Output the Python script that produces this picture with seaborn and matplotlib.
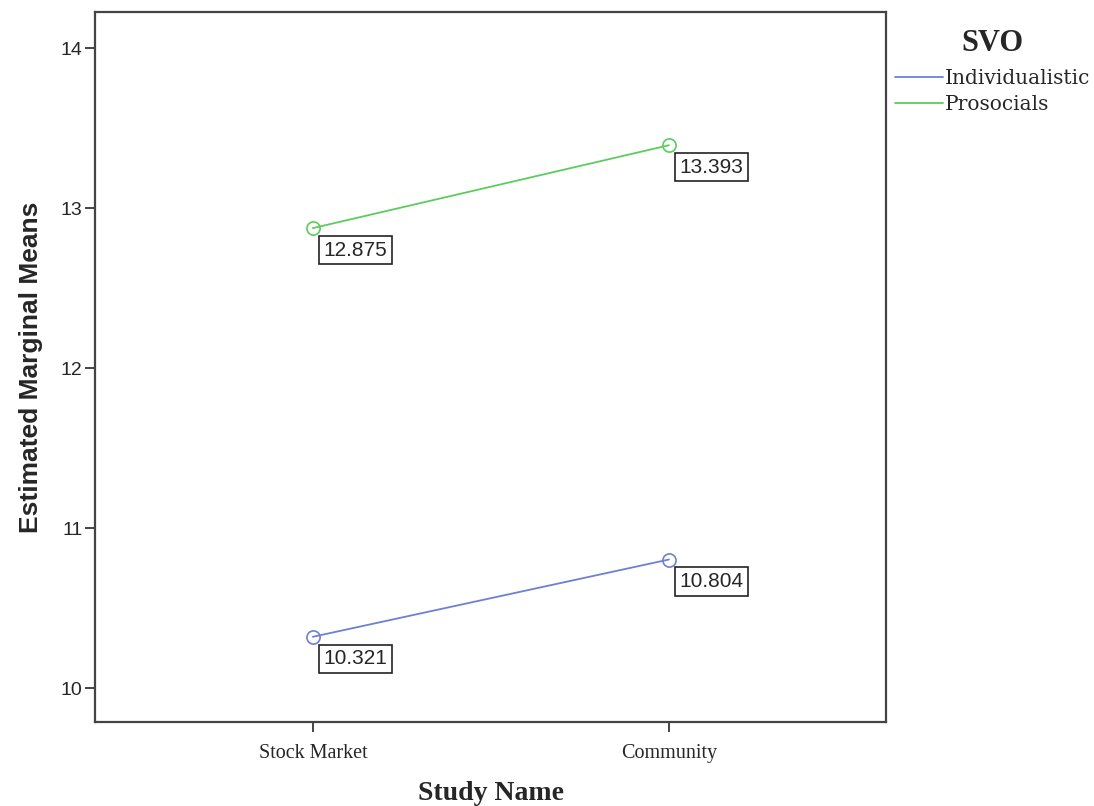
import pandas as pd
import matplotlib
matplotlib.use("Agg")
import matplotlib.pyplot as plt
from matplotlib.lines import Line2D
import seaborn as sns

# data
studies = ['Stock Market', 'Community']
groups = ['Individualistic', 'Prosocials']
individualistic = [10.321, 10.804]
prosocials = [12.875, 13.393]
colors = ['#6f80d2', '#5ccc5c']

df = pd.DataFrame({
    'Study Name': studies * 2,
    'Mean': individualistic + prosocials,
    'SVO': [groups[0]] * 2 + [groups[1]] * 2,
})

sns.set_style("white")
fig = plt.figure(figsize=(10.94, 8.06), dpi=100)
ax = fig.add_axes([0.0868, 0.104, 0.7232, 0.881])

sns.pointplot(data=df, x='Study Name', y='Mean', hue='SVO', order=studies,
              hue_order=groups, palette=colors, errorbar=None, markers='o',
              markersize=9.5, markerfacecolor='none', markeredgewidth=1.2,
              linewidth=1.3, ax=ax)

# value labels in boxes
for x, vals in enumerate(zip(individualistic, prosocials)):
    for v in vals:
        ax.annotate(f'{v:.3f}', xy=(x, v), xytext=(7.5, -9), textcoords='offset points',
                    ha='left', va='top', fontsize=15, family='Liberation Sans',
                    bbox=dict(boxstyle='square,pad=0.22', fc='white', ec='#222222', lw=1.2))

ax.set_xlim(-0.612, 1.61)
ax.set_ylim(9.7875, 14.225)
ax.set_yticks([10, 11, 12, 13, 14])

for s in ax.spines.values():
    s.set_color('#444444')
    s.set_linewidth(1.6)

ax.tick_params(axis='both', direction='out', length=7, width=1.4, color='#444444',
               left=True, bottom=True)
ax.tick_params(axis='x', pad=9)
ax.tick_params(axis='y', pad=2)
for lab in ax.get_yticklabels():
    lab.set_family('Liberation Sans')
    lab.set_fontsize(14)
for lab in ax.get_xticklabels():
    lab.set_family('Liberation Serif')
    lab.set_fontsize(14.5)

ax.set_ylabel('Estimated Marginal Means', fontsize=19, fontweight='bold',
              family='Liberation Sans', labelpad=13)
ax.set_xlabel('Study Name', fontsize=20, fontweight='bold', family='Liberation Serif',
              labelpad=13)

handles = [Line2D([], [], color=c, lw=1.3) for c in colors]
leg = ax.legend(handles, groups, title='SVO', loc='upper left',
                bbox_to_anchor=(0.998, 0.99), frameon=False, handlelength=2.4,
                handletextpad=0.1, borderaxespad=0.3, labelspacing=0.35,
                borderpad=0.2,
                prop={'family': 'DejaVu Serif', 'size': 14.5})
leg.get_title().set_fontproperties({'family': 'Liberation Serif', 'size': 22, 'weight': 'bold'})
leg._legend_box.align = 'center'
leg._legend_box.sep = 8

fig.savefig('out.png', dpi=100)
